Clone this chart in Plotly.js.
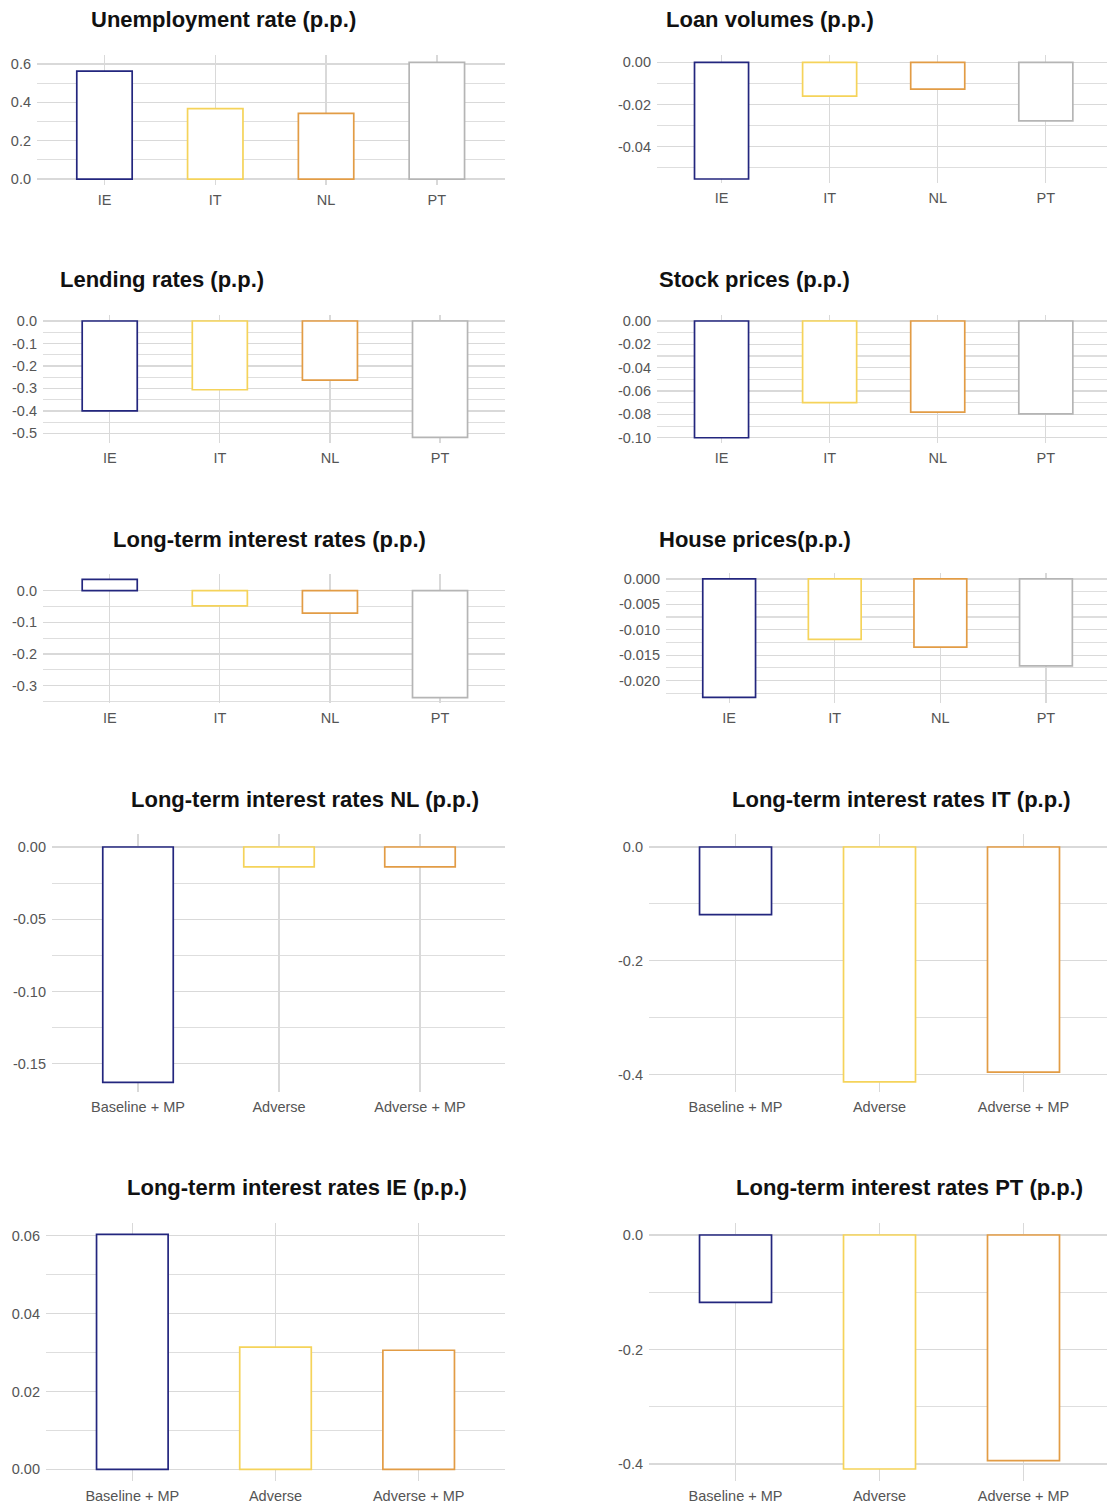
<!DOCTYPE html>
<html>
<head>
<meta charset="utf-8">
<script src="https://cdn.plot.ly/plotly-3.0.1.min.js"></script>
<style>html,body{margin:0;padding:0;background:#fff;}#chart{width:1107px;height:1506px;}</style>
</head>
<body>
<div id="chart"></div>
<script>
// ---------- data ----------
const countries = ['IE', 'IT', 'NL', 'PT'];
const scenarios = ['Baseline + MP', 'Adverse', 'Adverse + MP'];

const unemployment  = [0.563, 0.367, 0.343, 0.609];
const loanVolumes   = [-0.0553, -0.0160, -0.0127, -0.0278];
const lendingRates  = [-0.400, -0.306, -0.263, -0.518];
const stockPrices   = [-0.100, -0.070, -0.078, -0.0795];
const longTermRates = [0.036, -0.048, -0.071, -0.3375];
const housePrices   = [-0.0233, -0.0119, -0.0134, -0.0171];
const ltNL = [-0.163, -0.0137, -0.0137];
const ltIT = [-0.119, -0.4125, -0.3955];
const ltIE = [0.0604, 0.0314, 0.0306];
const ltPT = [-0.1176, -0.4087, -0.3940];

const titles = ['Unemployment rate (p.p.)', 'Loan volumes (p.p.)', 'Lending rates (p.p.)',
  'Stock prices (p.p.)', 'Long-term interest rates (p.p.)', 'House prices(p.p.)',
  'Long-term interest rates NL (p.p.)', 'Long-term interest rates IT (p.p.)',
  'Long-term interest rates IE (p.p.)', 'Long-term interest rates PT (p.p.)'];

const ticksUnemp = [0, 0.2, 0.4, 0.6];
const ticksLoan  = [0, -0.02, -0.04];
const ticksLend  = [0, -0.1, -0.2, -0.3, -0.4, -0.5];
const ticksStock = [0, -0.02, -0.04, -0.06, -0.08, -0.10];
const ticksLT    = [0, -0.1, -0.2, -0.3];
const ticksHouse = [0, -0.005, -0.010, -0.015, -0.020];
const ticksNL    = [0, -0.05, -0.10, -0.15];
const ticksIT    = [0, -0.2, -0.4];
const ticksIE    = [0, 0.02, 0.04, 0.06];
const ticksPT    = [0, -0.2, -0.4];

// ---------- styling ----------
const countryColors  = ['#23267e', '#f5d35a', '#e29c45', '#b5b5b5'];
const scenarioColors = ['#23267e', '#f5d35a', '#e29c45'];

const W = 1107, H = 1506;
const FONT = 'Liberation Sans, Arial, sans-serif';

// panel geometry in pixels: plot box + axis ranges
const panels = [
  {cats: countries, vals: unemployment, cols: countryColors, ticks: ticksUnemp, dec: 1, minor: 0.1,
   L: 37, R: 505, T: 55, B: 185, xr: [-0.609, 3.615], yr: [-0.031, 0.647], tx: 89, ty: 20},
  {cats: countries, vals: loanVolumes, cols: countryColors, ticks: ticksLoan, dec: 2, minor: 0.01,
   L: 657, R: 1107, T: 55, B: 183, xr: [-0.597, 3.566], yr: [-0.0572, 0.00346], tx: 664, ty: 20},
  {cats: countries, vals: lendingRates, cols: countryColors, ticks: ticksLend, dec: 1, minor: 0.05,
   L: 43, R: 505, T: 315, B: 443, xr: [-0.606, 3.59], yr: [-0.543, 0.0267], tx: 58, ty: 279},
  {cats: countries, vals: stockPrices, cols: countryColors, ticks: ticksStock, dec: 2, minor: 0.01,
   L: 657, R: 1107, T: 315, B: 443, xr: [-0.597, 3.566], yr: [-0.1045, 0.00514], tx: 657, ty: 279},
  {cats: countries, vals: longTermRates, cols: countryColors, ticks: ticksLT, dec: 1, minor: 0.05,
   L: 43, R: 505, T: 574, B: 703, xr: [-0.606, 3.59], yr: [-0.3543, 0.0527], tx: 111, ty: 539},
  {cats: countries, vals: housePrices, cols: countryColors, ticks: ticksHouse, dec: 3, minor: 0.0025,
   L: 666, R: 1107, T: 573, B: 703, xr: [-0.598, 3.578], yr: [-0.0244, 0.00116], tx: 657, ty: 539},
  {cats: scenarios, vals: ltNL, cols: scenarioColors, ticks: ticksNL, dec: 2, minor: 0.025,
   L: 52, R: 505, T: 834, B: 1092, xr: [-0.61, 2.603], yr: [-0.1696, 0.009], tx: 129, ty: 799},
  {cats: scenarios, vals: ltIT, cols: scenarioColors, ticks: ticksIT, dec: 1, minor: 0.1,
   L: 649, R: 1107, T: 834, B: 1092, xr: [-0.601, 2.58], yr: [-0.4304, 0.0228], tx: 730, ty: 799},
  {cats: scenarios, vals: ltIE, cols: scenarioColors, ticks: ticksIE, dec: 2, minor: 0.01,
   L: 46, R: 505, T: 1223, B: 1481, xr: [-0.603, 2.603], yr: [-0.003, 0.0633], tx: 125, ty: 1187},
  {cats: scenarios, vals: ltPT, cols: scenarioColors, ticks: ticksPT, dec: 1, minor: 0.1,
   L: 649, R: 1107, T: 1223, B: 1481, xr: [-0.601, 2.58], yr: [-0.4297, 0.021], tx: 734, ty: 1187}
];

const traces = [];
const layout = {
  width: W, height: H,
  margin: {l: 0, r: 0, t: 0, b: 0},
  paper_bgcolor: '#ffffff', plot_bgcolor: 'rgba(0,0,0,0)',
  showlegend: false,
  font: {family: FONT, color: '#555555', size: 14},
  annotations: []
};

panels.forEach((p, i) => {
  const n = i === 0 ? '' : String(i + 1);
  traces.push({
    type: 'bar',
    x: p.cats, y: p.vals,
    xaxis: 'x' + n, yaxis: 'y' + n,
    width: 0.5,
    marker: {color: 'rgba(255,255,255,1)', line: {color: p.cols, width: 1.7}},
    hoverinfo: 'x+y'
  });
  layout['xaxis' + n] = {
    domain: [p.L / W, p.R / W],
    anchor: 'y' + n,
    type: 'category',
    range: p.xr,
    showgrid: true, gridcolor: '#d9d9d9', gridwidth: 1.3,
    zeroline: false, showline: false, ticks: '',
    ticklabelstandoff: 4,
    tickfont: {family: FONT, size: 14.5, color: '#555555'},
    fixedrange: true
  };
  layout['yaxis' + n] = {
    domain: [1 - p.B / H, 1 - p.T / H],
    anchor: 'x' + n,
    range: p.yr,
    tickmode: 'array',
    tickvals: p.ticks,
    ticktext: p.ticks.map(v => v.toFixed(p.dec)),
    showgrid: true, gridcolor: '#d9d9d9', gridwidth: 1.3,
    minor: {tickmode: 'linear', tick0: 0, dtick: p.minor, showgrid: true, gridcolor: '#dedede', gridwidth: 1.1, ticks: ''},
    zeroline: false, showline: false, ticks: '',
    ticklabelstandoff: 5,
    tickfont: {family: FONT, size: 14.5, color: '#555555'},
    fixedrange: true
  };
  layout.annotations.push({
    text: '<b>' + titles[i] + '</b>',
    xref: 'paper', yref: 'paper',
    x: p.tx / W, y: 1 - p.ty / H,
    xanchor: 'left', yanchor: 'middle',
    showarrow: false,
    font: {family: FONT, size: 22, color: '#111111'}
  });
});

Plotly.newPlot('chart', traces, layout, {staticPlot: true, displayModeBar: false});
</script>
</body>
</html>
